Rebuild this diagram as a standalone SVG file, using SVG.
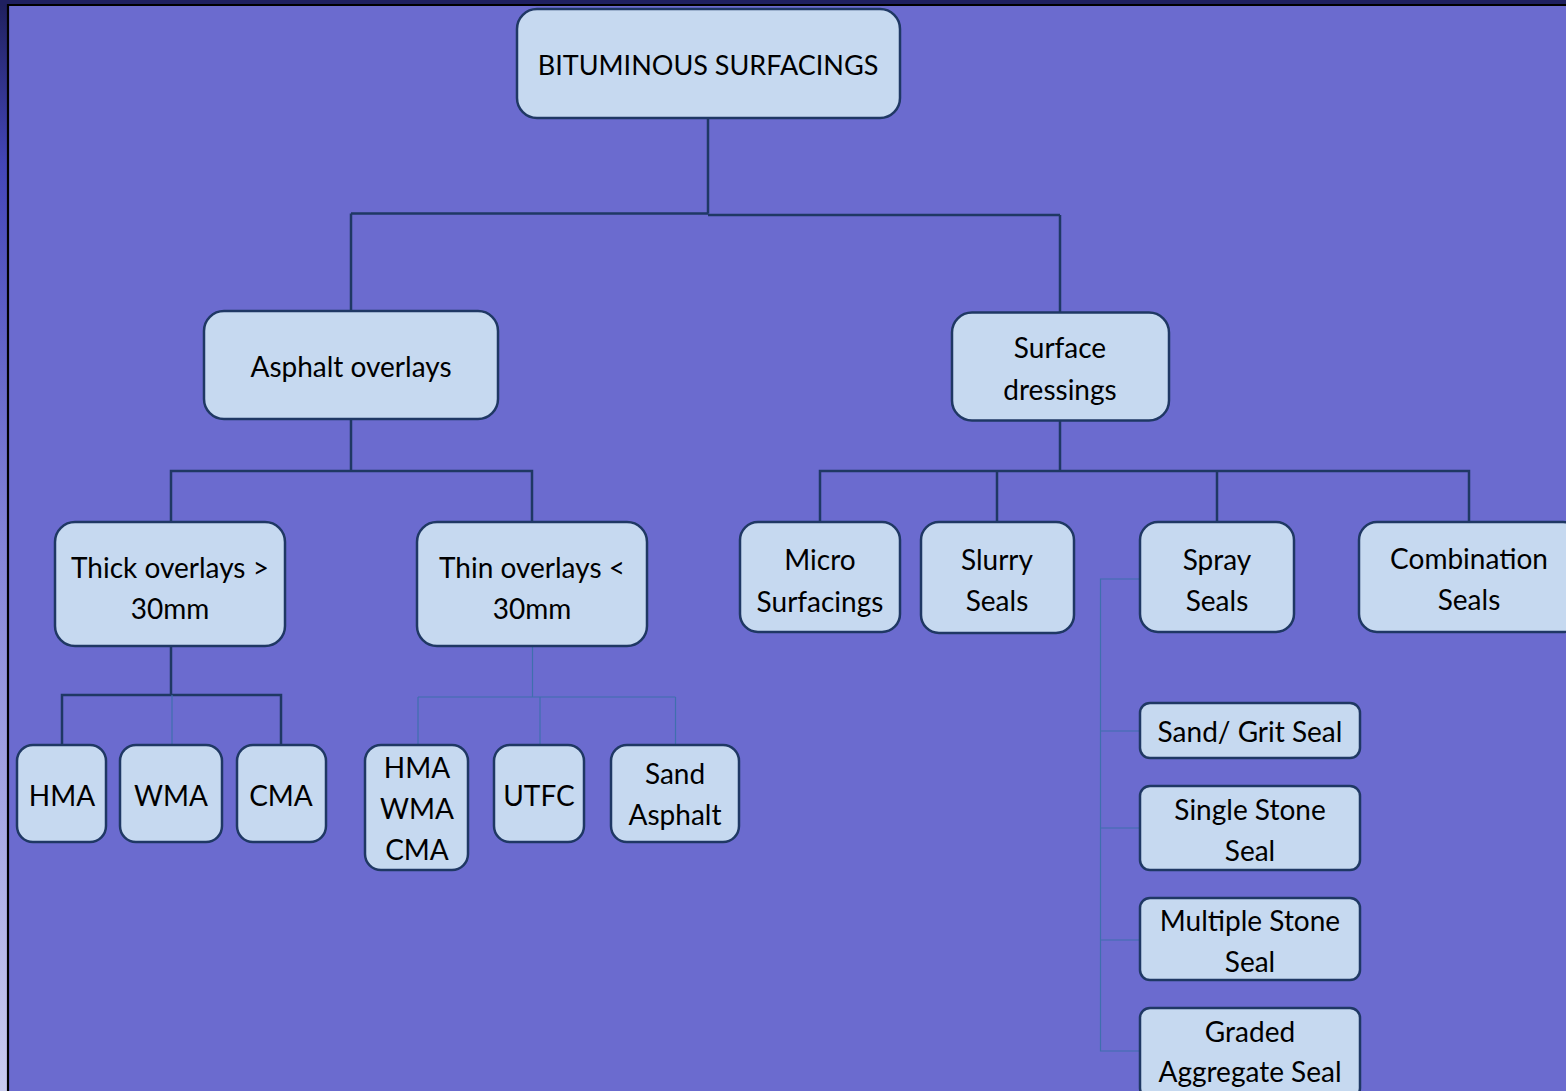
<svg xmlns="http://www.w3.org/2000/svg" width="1566" height="1091" viewBox="0 0 1566 1091">
<defs>
<linearGradient id="strip" x1="0" y1="0" x2="0" y2="1">
<stop offset="0" stop-color="#1e1f5c"/>
<stop offset="0.15" stop-color="#4446b8"/>
<stop offset="0.5" stop-color="#8484d8"/>
<stop offset="1" stop-color="#c9cbf0"/>
</linearGradient>
<style>
.node rect{fill:#c6d9f0;stroke:#1f3864;stroke-width:2.5}
.node text{font-family:Lato,"Open Sans",sans-serif;font-size:28px;fill:#000;text-anchor:middle}
.thick{stroke:#1f3864;stroke-width:2.5;fill:none}
.thin{stroke:#3f6fae;stroke-width:1.2;fill:none}
</style>
</defs>
<rect x="0" y="0" width="1566" height="1091" fill="url(#strip)"/>
<rect x="0" y="0" width="1566" height="5" fill="#1f2060"/>
<rect x="8" y="5" width="1558" height="1086" fill="#6b6bcf"/>
<path d="M8 1091V5H1566" stroke="#000" stroke-width="2.2" fill="none"/>

<g id="connectors">
<path class="thick" d="M708 118V213.5M351 213.5H708M708 215H1060M351 213.5V311M1060 215V312.5"/>
<path class="thick" d="M351 419V471H171V522M351 471H532V522"/>
<path class="thick" d="M1060 421V471H820V522M820 471H1469V522M997 471V522M1217 471V522"/>
<path class="thick" d="M171 646V695H62V745M171 695H281V745"/>
<path class="thin" d="M172 695V745"/>
<path class="thin" d="M532.5 646V697M418 697H675.5M418 697V745M540 697V745M675.5 697V745"/>
<path class="thin" d="M1140 579H1100.5V1051H1140M1100.5 731H1140M1100.5 828H1140M1100.5 940H1140"/>
</g>

<g id="n-root" class="node"><rect x="517" y="9" width="383" height="109" rx="20"/><text x="708" y="75" style="font-size:27px">BITUMINOUS SURFACINGS</text></g>
<g id="n-asphalt" class="node"><rect x="204" y="311" width="294" height="108" rx="20"/><text x="351" y="377">Asphalt overlays</text></g>
<g id="n-surface" class="node"><rect x="952" y="312.5" width="217" height="108" rx="20"/><text x="1060" y="358">Surface</text><text x="1060" y="400">dressings</text></g>
<g id="n-thick" class="node"><rect x="55" y="522" width="230" height="124" rx="20"/><text x="170" y="578">Thick overlays &gt;</text><text x="170" y="619">30mm</text></g>
<g id="n-thin" class="node"><rect x="417" y="522" width="230" height="124" rx="20"/><text x="532" y="578">Thin overlays &lt;</text><text x="532" y="619">30mm</text></g>
<g id="n-micro" class="node"><rect x="740" y="522" width="160" height="110" rx="18"/><text x="820" y="570">Micro</text><text x="820" y="612">Surfacings</text></g>
<g id="n-slurry" class="node"><rect x="921" y="522" width="153" height="111" rx="18"/><text x="997" y="570">Slurry</text><text x="997" y="611">Seals</text></g>
<g id="n-spray" class="node"><rect x="1140" y="522" width="154" height="110" rx="18"/><text x="1217" y="570">Spray</text><text x="1217" y="611">Seals</text></g>
<g id="n-combo" class="node"><rect x="1359" y="522" width="222" height="110" rx="18"/><text x="1469" y="569">Combination</text><text x="1469" y="610">Seals</text></g>
<g id="n-hma" class="node"><rect x="17" y="745" width="89" height="97" rx="16"/><text x="62" y="806">HMA</text></g>
<g id="n-wma" class="node"><rect x="120" y="745" width="102" height="97" rx="16"/><text x="171" y="806">WMA</text></g>
<g id="n-cma" class="node"><rect x="237" y="745" width="89" height="97" rx="16"/><text x="281" y="806">CMA</text></g>
<g id="n-hwc" class="node"><rect x="365" y="745" width="103" height="125" rx="16"/><text x="417" y="778">HMA</text><text x="417" y="819">WMA</text><text x="417" y="860">CMA</text></g>
<g id="n-utfc" class="node"><rect x="494" y="745" width="90" height="97" rx="16"/><text x="539" y="806">UTFC</text></g>
<g id="n-sandasph" class="node"><rect x="611" y="745" width="128" height="97" rx="16"/><text x="675" y="784">Sand</text><text x="675" y="825">Asphalt</text></g>
<g id="n-grit" class="node"><rect x="1140" y="703" width="220" height="55" rx="10"/><text x="1250" y="742">Sand/ Grit Seal</text></g>
<g id="n-single" class="node"><rect x="1140" y="786" width="220" height="84" rx="10"/><text x="1250" y="820">Single Stone</text><text x="1250" y="861">Seal</text></g>
<g id="n-multi" class="node"><rect x="1140" y="898" width="220" height="82" rx="10"/><text x="1250" y="931">Multiple Stone</text><text x="1250" y="972">Seal</text></g>
<g id="n-graded" class="node"><rect x="1140" y="1008" width="220" height="90" rx="10"/><text x="1250" y="1042">Graded</text><text x="1250" y="1082">Aggregate Seal</text></g>
</svg>
